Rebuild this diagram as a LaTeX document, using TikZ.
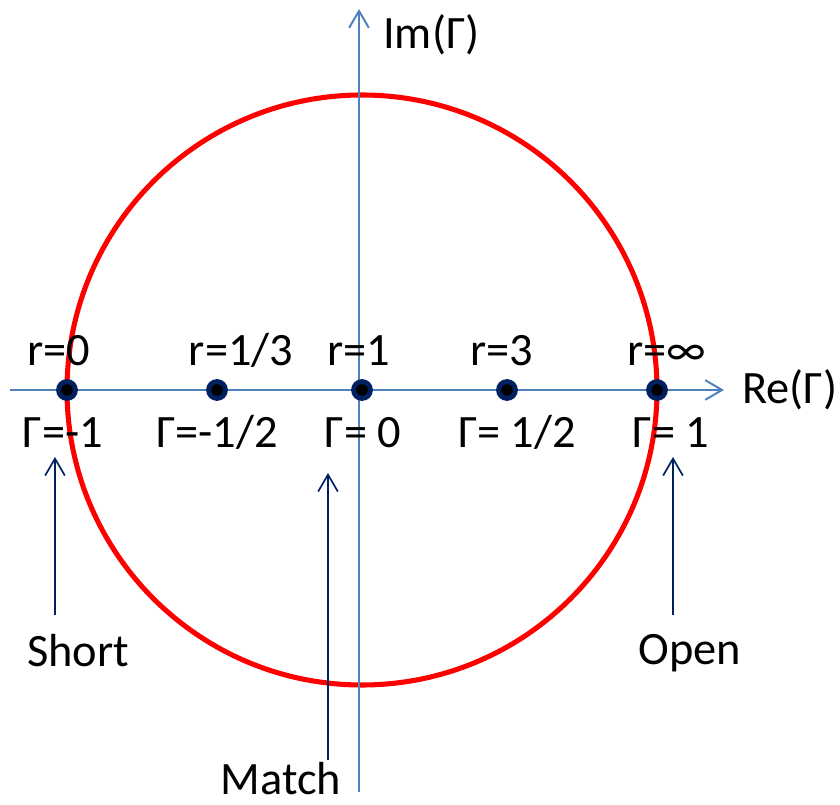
\documentclass[tikz,border=0pt]{standalone}
\usepackage{fontspec}
\setmainfont{Carlito}
\usetikzlibrary{arrows.meta}
\definecolor{AxisBlue}{HTML}{4F81BD}
\definecolor{LoadNavy}{HTML}{002060}
\definecolor{CircleRed}{HTML}{FF0000}

\begin{document}
\begin{tikzpicture}[>={Straight Barb[length=12pt,width=14pt]},
    every node/.style={inner sep=0pt},
    lbl/.style={font=\fontsize{33}{39}\selectfont},
    gpoint/.style={circle,fill=black,draw=LoadNavy,line width=3.5pt,minimum size=0.42cm}]
    \useasboundingbox (-9.05,-10.375) rectangle (11.95,9.75);
    % unit circle |Gamma| = 1
    \draw[CircleRed,line width=3.6pt] (0,0) circle (7.375);
    % axes
    \coordinate (reL) at (-8.8,0);
    \coordinate (reR) at (9.05,0);
    \coordinate (imB) at (-0.075,-10.05);
    \coordinate (imT) at (-0.075,9.525);
    \draw[->,AxisBlue,line width=1.4pt] (reL) -- (reR);
    \draw[->,AxisBlue,line width=1.4pt] (imB) -- (imT);
    \node[lbl,anchor=west] (relbl) at (9.5,0) {Re(Γ)};
    \node[lbl,anchor=west] (imlbl) at (0.525,8.875) {Im(Γ)};
    % points on the real axis
    \node[gpoint] (p1) at (-7.375,0) {};
    \node[gpoint] (p2) at (-3.625,0) {};
    \node[gpoint] (p3) at (0,0) {};
    \node[gpoint] (p4) at (3.625,0) {};
    \node[gpoint] (p5) at (7.375,0) {};
    \node[lbl,anchor=base] (r1) at (-7.575,0.6) {r=0};
    \node[lbl,anchor=base] (r2) at (-3.025,0.6) {r=1/3};
    \node[lbl,anchor=base] (r3) at (-0.075,0.6) {r=1};
    \node[lbl,anchor=base] (r4) at (3.5,0.6) {r=3};
    \node[lbl,anchor=base] (r5) at (7.625,0.6) {r=∞};
    \node[lbl,anchor=base] (g1) at (-7.475,-1.45) {Γ=-1};
    \node[lbl,anchor=base] (g2) at (-3.625,-1.45) {Γ=-1/2};
    \node[lbl,anchor=base] (g3) at (0.025,-1.45) {Γ= 0};
    \node[lbl,anchor=base] (g4) at (3.875,-1.45) {Γ= 1/2};
    \node[lbl,anchor=base] (g5) at (7.725,-1.45) {Γ= 1};
    % load cases
    \node[lbl,anchor=base] (short) at (-7.1,-6.925) {Short};
    \node[lbl,anchor=base] (match) at (-2.025,-10.125) {Match};
    \node[lbl,anchor=base] (open) at (8.2,-6.875) {Open};
    \coordinate (shortT) at (-7.675,-5.625);
    \coordinate (shortH) at (-7.675,-1.675);
    \coordinate (matchT) at (-0.85,-9.25);
    \coordinate (matchH) at (-0.85,-2.075);
    \coordinate (openT) at (7.775,-5.625);
    \coordinate (openH) at (7.775,-1.675);
    \draw[->,LoadNavy,line width=1.2pt] (shortT) -- (shortH);
    \draw[->,LoadNavy,line width=1.2pt] (matchT) -- (matchH);
    \draw[->,LoadNavy,line width=1.2pt] (openT) -- (openH);
\end{tikzpicture}
\end{document}
